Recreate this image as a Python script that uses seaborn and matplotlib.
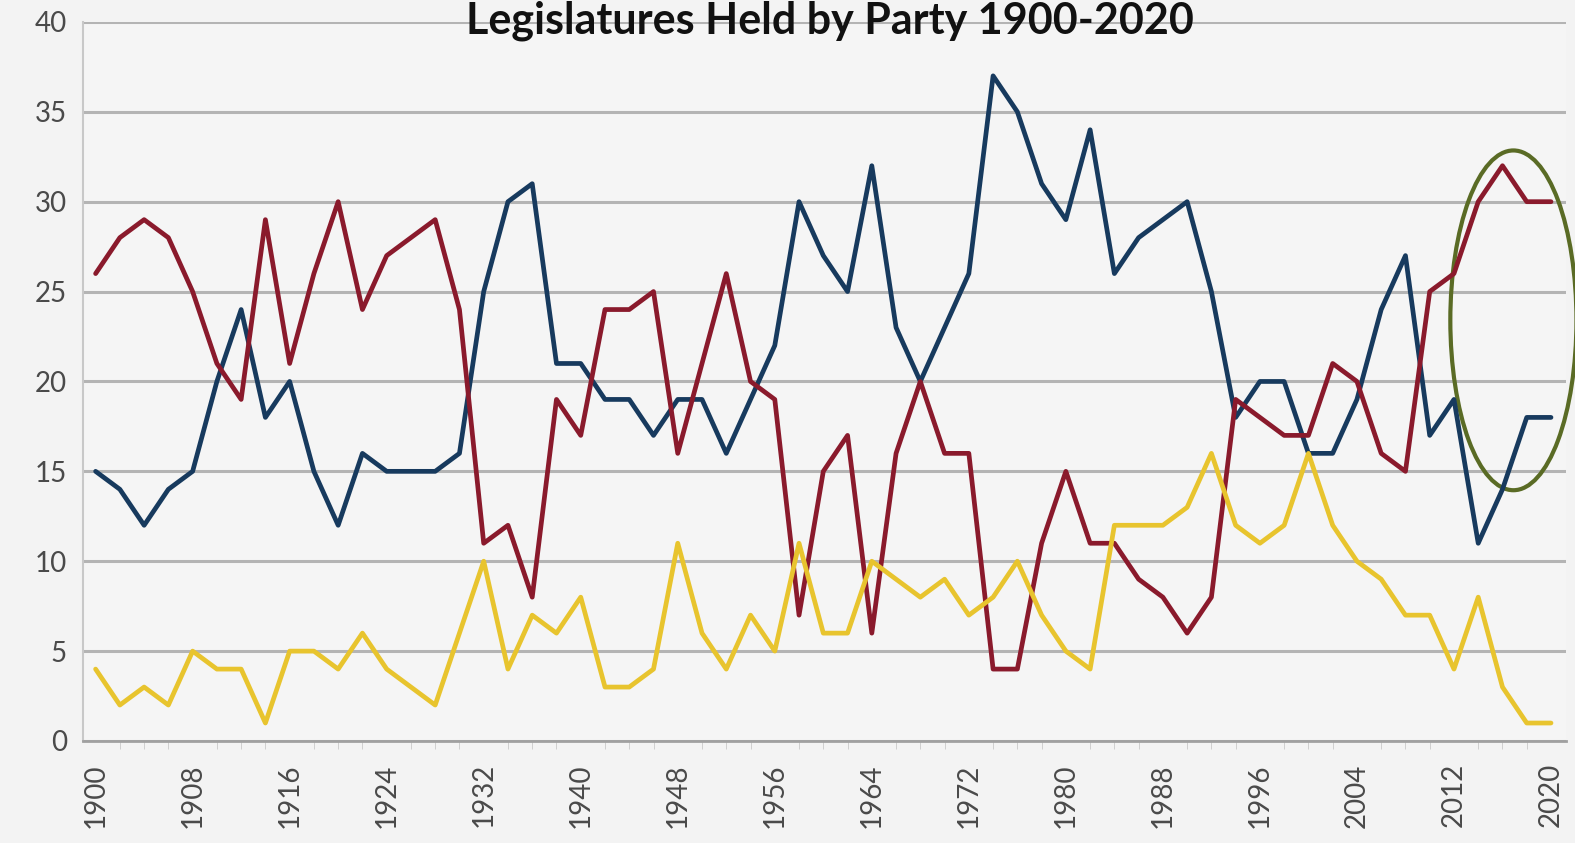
import pandas as pd
import numpy as np
import matplotlib.pyplot as plt
import seaborn as sns
from matplotlib.patches import Ellipse

years = list(range(1900, 2021, 2))

# legislatures held
dem = [15, 14, 12, 14, 15, 20, 24, 18, 20, 15, 12, 16, 15, 15, 15, 16,
       25, 30, 31, 21, 21, 19, 19, 17, 19, 19, 16, 19, 22, 30, 27, 25,
       32, 23, 20, 23, 26, 37, 35, 31, 29, 34, 26, 28, 29, 30, 25, 18,
       20, 20, 16, 16, 19, 24, 27, 17, 19, 11, 14, 18, 18]
rep = [26, 28, 29, 28, 25, 21, 19, 29, 21, 26, 30, 24, 27, 28, 29, 24,
       11, 12, 8, 19, 17, 24, 24, 25, 16, 21, 26, 20, 19, 7, 15, 17,
       6, 16, 20, 16, 16, 4, 4, 11, 15, 11, 11, 9, 8, 6, 8, 19,
       18, 17, 17, 21, 20, 16, 15, 25, 26, 30, 32, 30, 30]
split = [4, 2, 3, 2, 5, 4, 4, 1, 5, 5, 4, 6, 4, 3, 2, 6,
         10, 4, 7, 6, 8, 3, 3, 4, 11, 6, 4, 7, 5, 11, 6, 6,
         10, 9, 8, 9, 7, 8, 10, 7, 5, 4, 12, 12, 12, 13, 16, 12,
         11, 12, 16, 12, 10, 9, 7, 7, 4, 8, 3, 1, 1]

parties = ["Democrat", "Republican", "Split"]
colors = {"Democrat": "#173a5e", "Republican": "#8a1a2c", "Split": "#e8c42e"}

df = pd.DataFrame({"Year": years, "Democrat": dem, "Republican": rep, "Split": split})
long = df.melt(id_vars="Year", value_vars=parties, var_name="Party", value_name="Count")

sns.set_style("white")
plt.rcParams['font.family'] = ['Lato', 'DejaVu Sans']

fig = plt.figure(figsize=(15.75, 8.43), dpi=100, facecolor="#f3f3f3")
ax = fig.add_axes([0.053, 0.121, 0.941, 0.853])
ax.set_facecolor("#f5f5f5")

sns.lineplot(data=long, x="Year", y="Count", hue="Party", palette=colors,
             linewidth=3.4, legend=False, ax=ax)

ax.set_xlim(1899, 2021.2)
ax.set_ylim(0, 40)
ax.set_yticks(range(0, 41, 5))
ax.set_xticks(range(1900, 2021, 8))
ax.set_xticks(range(1900, 2021, 2), minor=True)
ax.grid(axis="y", color="#b4b4b4", linewidth=2.2)
ax.set_axisbelow(True)
for s in ["top", "right"]:
    ax.spines[s].set_visible(False)
ax.spines["left"].set_color("#c8c8c8")
ax.spines["left"].set_linewidth(1.5)
ax.spines["bottom"].set_color("#a0a0a0")
ax.spines["bottom"].set_linewidth(2)
ax.tick_params(axis="y", length=0, labelsize=20, labelcolor="#4a4a4a", pad=12)
ax.tick_params(axis="x", which="major", length=8, color="#bbbbbb", labelsize=20,
               labelcolor="#4a4a4a", labelrotation=90, pad=8)
ax.tick_params(axis="x", which="minor", length=6, color="#c8c8c8", bottom=True)
ax.set_xlabel("")
ax.set_ylabel("")

# green circle highlighting the recent years
ell = Ellipse((2016.9, 23.4), 10.4, 18.9, fill=False, edgecolor="#5a6b25",
              linewidth=3, clip_on=False)
ax.add_patch(ell)

fig.text(0.527, 0.999, "Legislatures Held by Party 1900-2020", ha="center", va="top",
         fontsize=31, fontweight="bold", color="#111111")

fig.savefig("out.png", dpi=100, facecolor=fig.get_facecolor())
